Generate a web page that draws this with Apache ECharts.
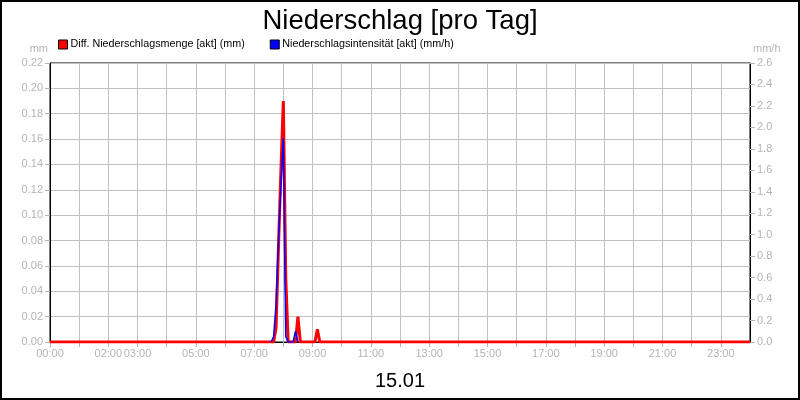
<!DOCTYPE html>
<html>
<head>
<meta charset="utf-8">
<script src="https://cdn.jsdelivr.net/npm/echarts@6/dist/echarts.min.js"></script>
<style>
html,body{margin:0;padding:0;background:#fff;}
#chart{width:800px;height:400px;}
</style>
</head>
<body>
<div id="chart"></div>
<script>
// ---- data ----
const titleText = 'Niederschlag [pro Tag]';
const dateText = '15.01';
const seriesNames = ['Diff. Niederschlagsmenge [akt] (mm)', 'Niederschlagsintensität [akt] (mm/h)'];

const mengeTimes  = ['00:00','07:40','07:45','07:50','07:55','08:00','08:05','08:10','08:25','08:30','08:35','09:05','09:10','09:15','24:00'];
const mengeValues = [0,      0,      0.011,  0.075,  0.135,  0.19,   0.05,   0,      0,      0.02,   0,      0,      0.01,   0,      0];

const intensTimes  = ['07:35','07:40','07:45','07:50','07:55','08:00','08:05','08:10','08:20','08:25','08:30'];
const intensValues = [0,      0.05,   0.35,   0.95,   1.45,   1.9,    0.05,   0,      0,      0.1,    0];

const xTickLabels = ['00:00','02:00','03:00','05:00','07:00','09:00','11:00','13:00','15:00','17:00','19:00','21:00','23:00'];
const leftAxisName = 'mm';
const rightAxisName = 'mm/h';

// ---- helpers ----
function toMin(t){ const p = t.split(':'); return (+p[0])*60 + (+p[1]); }
function pairs(ts, vs){ return ts.map((t,i)=>[toMin(t), vs[i]]); }
function minToLabel(m){ const h = Math.round(m/60); return (h<10?'0':'')+h+':00'; }

const FONT = "'Liberation Sans', Arial, sans-serif";
const GRAY = '#b4b4b4';

const chart = echarts.init(document.getElementById('chart'));
chart.setOption({
  animation: false,
  backgroundColor: '#fff',
  textStyle: { fontFamily: FONT },
  title: [
    { text: titleText, left: 'center', top: 2,
      textStyle: { fontSize: 27.5, fontWeight: 'normal', color: '#000', fontFamily: FONT } },
    { text: dateText, left: 'center', top: 366,
      textStyle: { fontSize: 20, fontWeight: 'normal', color: '#000', fontFamily: FONT } }
  ],
  graphic: [
    { type: 'rect', shape: { x: 1, y: 1, width: 798, height: 398 },
      style: { fill: 'none', stroke: '#000', lineWidth: 2 }, silent: true, z: 100 }
  ],
  legend: {
    left: 53, top: 34,
    itemWidth: 9, itemHeight: 9, itemGap: 25,
    icon: 'rect',
    itemStyle: { borderColor: '#000', borderWidth: 1 },
    textStyle: { fontSize: 10.75, color: '#000', fontFamily: FONT, padding: [0,0,0,-2] },
    data: seriesNames
  },
  grid: {
    left: 50, right: 50, top: 63, bottom: 58,
    show: true, borderColor: '#000', borderWidth: 1, backgroundColor: '#fff'
  },
  xAxis: {
    type: 'value', min: 0, max: 1440, interval: 60,
    axisLine: { show: true, lineStyle: { color: '#000', width: 1 } },
    axisTick: { show: true, length: 5, lineStyle: { color: GRAY } },
    axisLabel: {
      color: GRAY, fontSize: 11, margin: 6, fontFamily: FONT,
      showMinLabel: true, showMaxLabel: false,
      formatter: function(v){ const l = minToLabel(v); return xTickLabels.indexOf(l) >= 0 ? l : ''; }
    },
    splitLine: { show: true, lineStyle: { color: '#c0c0c0', width: 1 } }
  },
  yAxis: [
    {
      type: 'value', min: 0, max: 0.22, interval: 0.02, position: 'left',
      name: leftAxisName, nameLocation: 'end', nameGap: 9,
      nameTextStyle: { color: GRAY, fontSize: 11, align: 'right', padding: [0, 2, 0, 0], fontFamily: FONT },
      axisLine: { show: true, lineStyle: { color: '#000' } },
      axisTick: { show: true, length: 5, lineStyle: { color: GRAY } },
      axisLabel: { color: GRAY, fontSize: 11, margin: 7, fontFamily: FONT,
        formatter: v => v.toFixed(2) },
      splitLine: { show: true, lineStyle: { color: '#c0c0c0', width: 1 } }
    },
    {
      type: 'value', min: 0, max: 2.6, interval: 0.2, position: 'right',
      name: rightAxisName, nameLocation: 'end', nameGap: 9,
      nameTextStyle: { color: GRAY, fontSize: 11, align: 'left', padding: [0, 0, 0, 3], fontFamily: FONT },
      axisLine: { show: true, lineStyle: { color: '#000' } },
      axisTick: { show: true, length: 5, lineStyle: { color: GRAY } },
      axisLabel: { color: GRAY, fontSize: 11, margin: 7, fontFamily: FONT,
        formatter: v => v.toFixed(1) },
      splitLine: { show: false }
    }
  ],
  series: [
    {
      name: seriesNames[0], type: 'line', yAxisIndex: 0, z: 2,
      data: pairs(mengeTimes, mengeValues),
      showSymbol: false, symbol: 'none',
      itemStyle: { color: '#ff0000' },
      lineStyle: { color: '#ff0000', width: 3 }
    },
    {
      name: seriesNames[1], type: 'line', yAxisIndex: 1, z: 3,
      data: pairs(intensTimes, intensValues),
      showSymbol: false, symbol: 'none',
      itemStyle: { color: '#0000ff' },
      lineStyle: { color: '#0000ff', width: 1.5 }
    }
  ]
});
</script>
</body>
</html>
